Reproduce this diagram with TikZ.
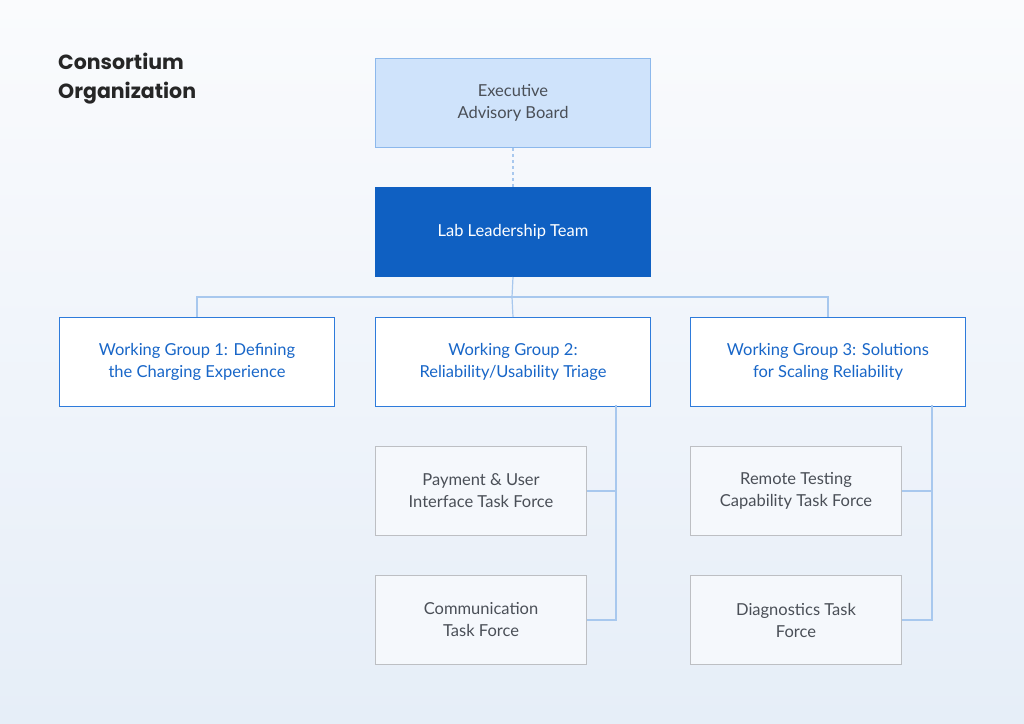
\documentclass[tikz,border=0pt]{standalone}
\usepackage{fontspec}
\setmainfont{Lato}
\newfontfamily\titlefont{Poppins}
\definecolor{bgtop}{HTML}{FAFBFD}
\definecolor{bgbot}{HTML}{E6EEF8}
\definecolor{lblue}{HTML}{CFE3FB}
\definecolor{lborder}{HTML}{8CB8EC}
\definecolor{dblue}{HTML}{0F60C2}
\definecolor{wgborder}{HTML}{2E7BDB}
\definecolor{wgtext}{HTML}{1866C8}
\definecolor{line}{HTML}{A8C8EE}
\definecolor{gtext}{HTML}{4A4F57}
\definecolor{gborder}{HTML}{BDBFC3}
\definecolor{tffill}{HTML}{F5F8FC}
\begin{document}
\begin{tikzpicture}[x=1pt,y=-1pt,
  box/.style={draw, line width=1pt, minimum width=#1, minimum height=89pt, inner sep=0pt, align=center, font=\fontsize{16.5}{22}\selectfont, anchor=north west},
  exec/.style={box=275pt, fill=lblue, draw=lborder, text=gtext},
  lead/.style={box=275pt, fill=dblue, draw=dblue, text=white},
  wg/.style={box=275pt, fill=white, draw=wgborder, text=wgtext},
  tf/.style={box=211pt, fill=tffill, draw=gborder, text=gtext},
  conn/.style={draw=line, line width=1.2pt}]
\shade[top color=bgtop, bottom color=bgbot] (0,0) rectangle (1024,723);
\useasboundingbox (0,0) rectangle (1024,723);
\node[anchor=north west, align=left, inner sep=0pt, text=black!85, font=\titlefont\fontsize{20.5}{29}\selectfont\bfseries] (title) at (58,53) {Consortium\\Organization};
\node[exec] (exec) at (375,58) {Executive\\Advisory Board};
\node[lead] (lead) at (375,187) {Lab Leadership Team};
\node[wg] (wg1) at (59,317) {Working Group 1: Defining\\the Charging Experience};
\node[wg] (wg2) at (375,317) {Working Group 2:\\Reliability/Usability Triage};
\node[wg] (wg3) at (690,317) {Working Group 3: Solutions\\for Scaling Reliability};
\node[tf] (tf1) at (375,446) {Payment \& User\\Interface Task Force};
\node[tf] (tf2) at (375,575) {Communication\\Task Force};
\node[tf] (tf3) at (690,446) {Remote Testing\\Capability Task Force};
\node[tf] (tf4) at (690,575) {Diagnostics Task\\Force};
\draw[conn, dash pattern=on 3pt off 3pt] (exec.south) -- (lead.north);
\coordinate (hj) at (512,297);
\draw[conn] (lead.south) -- (hj);
\draw[conn] (wg1.north) |- (hj) -| (wg3.north);
\draw[conn] (hj) -- (wg2.north);
\coordinate (v2) at (616,405);
\coordinate (v3) at (932,405);
\draw[conn] (v2) |- (tf2.east);
\draw[conn] (tf1.east) -- (tf1.east -| v2);
\draw[conn] (v3) |- (tf4.east);
\draw[conn] (tf3.east) -- (tf3.east -| v3);
\end{tikzpicture}
\end{document}
